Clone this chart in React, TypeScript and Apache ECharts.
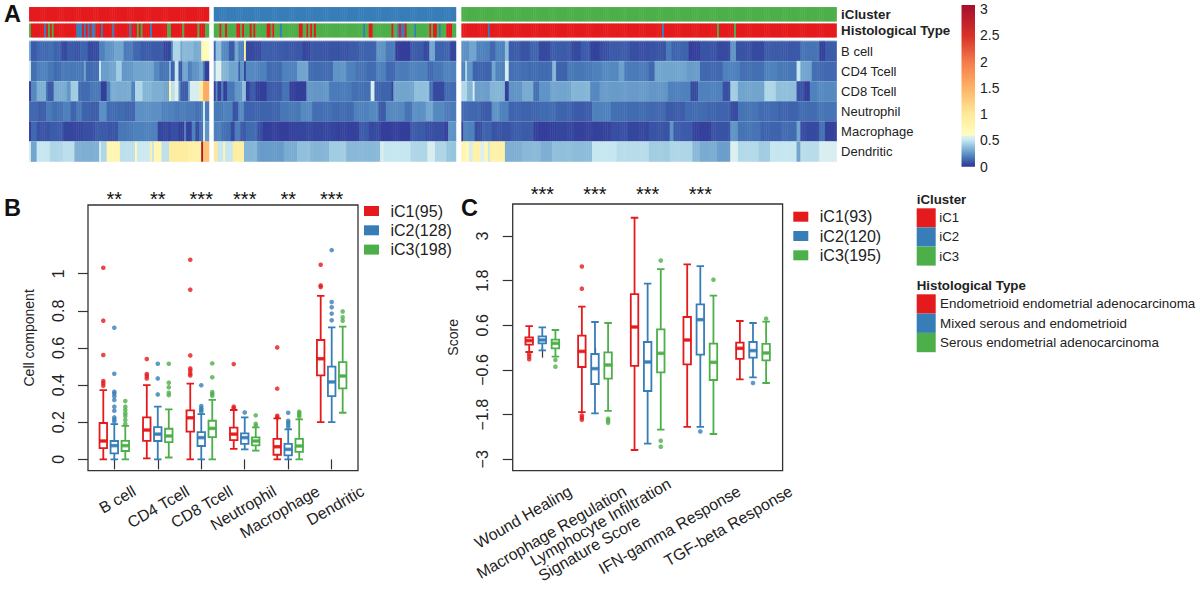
import React, { useEffect, useRef } from "react";
import * as echarts from "echarts";

const RED = "#e41a1c";
const BLUE = "#377eb8";
const GREEN = "#4daf4a";
const INK = "#222222";
const FONT = '"Liberation Sans", Arial, sans-serif';

const rowNames = ["B cell", "CD4 Tcell", "CD8 Tcell", "Neutrophil", "Macrophage", "Dendritic"];
const clusterSizes = [95, 128, 198];

// runs are [number of samples, value]
const histC1 = [[1,2],[7,0],[1,1],[1,0],[1,2],[1,0],[1,2],[12,0],[3,1],[1,0],[1,1],[1,0],[1,1],[1,0],[2,1],[3,0],[1,1],[5,0],[1,1],[8,0],[1,1],[3,0],[1,2],[1,0],[1,2],[4,0],[1,1],[8,0],[2,2],[6,0],[1,2],[7,0],[1,2],[3,0],[2,2]];
const histC2 = [[3,2],[1,0],[2,2],[1,0],[5,2],[2,0],[1,2],[1,0],[3,2],[1,0],[1,2],[1,0],[6,2],[2,0],[1,2],[1,0],[3,2],[1,1],[9,2],[2,0],[2,2],[1,0],[1,2],[1,0],[1,2],[1,0],[25,2],[1,1],[2,2],[2,0],[10,2],[1,0],[2,2],[1,1],[1,0],[2,1],[1,0],[4,2],[1,1],[7,2],[1,0],[1,2],[2,0],[1,2],[1,1],[3,2],[3,0],[2,2]];
const histC3 = [[14,0],[1,1],[91,0],[1,1],[28,0],[1,2],[8,0],[1,2],[53,0]];

const heatC1 = [
  [[1,.3],[3,.1],[6,.13],[3,.15],[4,.12],[3,.06],[4,.1],[3,.08],[4,.12],[6,.06],[3,.2],[5,.25],[5,.3],[5,.18],[4,.13],[12,.1],[4,.05],[1,.2],[4,.45],[1,.3],[6,.36],[4,.32],[1,.75],[3,.65]],
  [[1,.55],[3,.15],[6,.2],[3,.17],[4,.14],[5,.18],[7,.17],[1,.3],[7,.14],[1,.52],[4,.28],[4,.3],[3,.42],[6,.26],[6,.3],[5,.3],[3,.22],[5,.16],[1,.35],[2,.12],[2,.5],[2,.1],[3,.3],[2,.2],[4,.25],[2,.3],[1,.15],[2,.03]],
  [[1,.02],[3,.22],[5,.33],[1,.15],[3,.1],[7,.32],[2,.26],[4,.42],[6,.14],[6,.17],[3,.03],[2,.2],[11,.32],[2,.2],[4,.45],[5,.35],[6,.33],[3,.3],[1,.8],[2,.48],[2,.57],[1,.25],[4,.1],[1,.3],[5,.55],[2,.9],[3,1.55]],
  [[5,.13],[4,.1],[3,.18],[6,.15],[4,.2],[3,.12],[3,.17],[5,.12],[4,.1],[4,.24],[10,.14],[5,.12],[14,.24],[7,.2],[11,.18],[3,.15],[1,.2],[1,.55],[2,.18]],
  [[1,.02],[3,.13],[7,.08],[7,.1],[10,.05],[7,.07],[7,.1],[5,.08],[8,.17],[13,.2],[7,.05],[4,.07],[3,.03],[1,.2],[3,.04],[2,.2],[2,.06],[2,.15],[1,.57],[2,.25]],
  [[1,.55],[3,.3],[7,.5],[7,.45],[6,.48],[13,.33],[1,.55],[3,.45],[7,.75],[8,.48],[1,.7],[7,.52],[1,.85],[1,.5],[4,.75],[4,.48],[10,.95],[7,.85],[1,2.95],[3,1.35]],
];
const heatC2 = [
  [[1,.12],[3,.38],[4,.22],[3,.1],[2,.3],[3,.2],[1,.85],[8,.06],[5,.11],[7,.1],[10,.09],[4,.05],[7,.09],[13,.08],[6,.1],[9,.12],[5,.25],[5,.18],[8,.03],[7,.1],[3,.06],[3,.3],[8,.12],[3,.05]],
  [[1,.35],[3,.58],[4,.35],[5,.3],[1,.1],[2,.25],[1,.05],[6,.22],[5,.2],[8,.14],[8,.2],[6,.3],[13,.14],[7,.25],[5,.2],[6,.16],[5,.14],[5,.2],[5,.13],[7,.18],[10,.2],[3,.13],[5,.17],[7,.2]],
  [[1,.04],[1,.22],[2,.03],[1,.2],[2,.02],[4,.17],[4,.25],[2,.38],[2,.04],[3,.1],[6,.03],[8,.1],[4,.16],[9,.03],[12,.26],[12,.18],[10,.15],[2,.56],[9,.12],[1,.05],[6,.3],[5,.3],[8,.38],[2,.15],[6,.06],[6,.14]],
  [[5,.17],[5,.2],[3,.08],[3,.22],[6,.12],[13,.12],[11,.17],[6,.22],[11,.15],[11,.14],[8,.2],[5,.22],[4,.1],[10,.22],[4,.16],[7,.24],[4,.3],[6,.22],[6,.18]],
  [[4,.2],[5,.15],[2,.06],[3,.18],[3,.1],[6,.14],[3,.07],[17,.03],[8,.05],[14,.05],[12,.04],[5,.1],[6,.06],[16,.03],[8,.1],[10,.07],[2,.03],[4,.25]],
  [[2,1],[3,.5],[1,.8],[4,.5],[6,.9],[7,.35],[14,.27],[7,.32],[7,.38],[10,.35],[9,.42],[18,.36],[2,.55],[14,.5],[9,.45],[4,.55],[6,.45],[5,.4]],
];
// the third cluster is read in two halves of 99 samples each
const heatC3 = [
  [[4,.24],[4,.3],[7,.2],[3,.13],[5,.2],[2,.38],[6,.1],[5,.08],[5,.12],[6,.06],[11,.1],[5,.06],[5,.1],[5,.04],[5,.07],[11,.1],[10,.07],
   [9,.08],[3,.18],[9,.12],[6,.03],[9,.08],[7,.06],[3,.25],[8,.08],[7,.06],[9,.1],[10,.09],[10,.16],[3,.03],[6,.1]],
  [[2,.2],[1,.45],[3,.25],[10,.12],[2,.3],[5,.2],[2,.55],[10,.15],[7,.14],[6,.14],[2,.35],[6,.12],[13,.17],[5,.2],[9,.22],[3,.28],[13,.18],
   [3,.13],[4,.3],[13,.3],[7,.27],[12,.13],[4,.2],[5,.2],[13,.15],[7,.2],[10,.17],[2,.5],[6,.3],[4,.15],[9,.13]],
  [[3,.45],[3,.35],[1,.55],[8,.28],[8,.35],[2,.03],[7,.25],[6,.32],[3,.15],[6,.25],[11,.3],[10,.35],[5,.22],[26,.27],
   [10,.26],[12,.2],[4,.06],[13,.2],[4,.07],[4,.42],[14,.3],[6,.45],[11,.38],[4,.08],[3,.03],[4,.2],[10,.22]],
  [[10,.13],[6,.1],[4,.25],[5,.2],[16,.12],[9,.14],[8,.12],[11,.1],[10,.2],[5,.15],[15,.14],
   [9,.13],[10,.1],[12,.14],[12,.12],[4,.06],[11,.16],[10,.14],[11,.12],[10,.14],[10,.16]],
  [[1,.03],[6,.2],[4,.07],[5,.12],[10,.08],[12,.1],[12,.03],[9,.05],[10,.04],[10,.04],[9,.07],[11,.05],
   [11,.08],[2,.25],[10,.1],[10,.04],[10,.08],[4,.25],[12,.16],[11,.12],[8,.14],[2,.3],[10,.06],[3,.15],[6,.04]],
  [[2,.8],[2,.7],[2,.55],[4,.85],[2,.57],[2,.75],[1,.5],[8,.85],[9,.33],[10,.36],[6,.33],[10,.38],[11,.37],[13,.5],[17,.47],
   [11,.42],[12,.45],[4,.36],[9,.32],[7,.28],[4,.57],[11,.46],[6,.42],[14,.5],[2,.3],[10,.47],[9,.56]],
];

// box statistics are [min, Q1, median, Q3, max]
const cellGroups = ["B cell", "CD4 Tcell", "CD8 Tcell", "Neutrophil", "Macrophage", "Dendritic"];
const cellStars = ["**", "**", "***", "***", "**", "***"];
const cellTicks = [0, 0.2, 0.4, 0.6, 0.8, 1];
const cellBoxes = [
  [[0,.061,.099,.196,.373],[0,.032,.074,.099,.19],[0,.045,.074,.1,.18]],
  [[.005,.1,.158,.226,.4],[0,.099,.136,.174,.284],[.01,.093,.126,.165,.269]],
  [[0,.149,.224,.264,.408],[0,.072,.117,.147,.244],[0,.12,.167,.208,.32]],
  [[.057,.104,.136,.171,.266],[.054,.083,.117,.14,.226],[.047,.075,.099,.118,.172]],
  [[0,.025,.068,.11,.221],[0,.022,.054,.083,.162],[0,.04,.072,.11,.215]],
  [[.201,.452,.542,.643,.881],[.201,.341,.417,.499,.711],[.251,.382,.449,.524,.715]],
];
const cellOutliers = [
  [[1.032,.747,.562,.422,.41,.397],[.709,.461,.364,.355,.34,.32,.284,.262,.226,.215,.203],[.314,.284,.266,.248,.233,.212,.19]],
  [[.54,.46,.449,.436],[.515,.436,.35],[.515,.413,.388,.359,.346]],
  [[1.075,.914,.56,.49,.478,.463,.452],[.399,.287,.276,.266,.257],[.517,.442,.363,.352,.343]],
  [[.513,.284,.275],[.253],[.237,.192,.18]],
  [[.603,.381,.235,.226],[.251,.208,.197,.185,.172],[.257,.248,.239,.23]],
  [[1.048,.937,.928],[1.127,.847,.819,.785,.749],[.797,.765,.747]],
];

const scoreGroups = ["Wound Healing", "Macrophage Regulation", "{n|Lymphocyte Infiltration}\n{s|Signature Score}", "IFN-gamma Response", "TGF-beta Response"];
const scoreStars = ["***", "***", "***", "***", ""];
const scoreTicks = [-3, -1.8, -0.6, 0.6, 1.8, 3];
const scoreBoxes = [
  [[-.116,.08,.188,.278,.58],[-.072,.116,.206,.304,.546],[-.24,-.018,.116,.215,.475]],
  [[-1.73,-.52,-.1,.322,1.1],[-1.764,-.976,-.564,-.17,.69],[-1.7,-.833,-.466,-.125,.663]],
  [[-2.75,-.49,.555,1.44,3.49],[-2.58,-1.164,-.385,.152,1.72],[-2.2,-.663,-.152,.49,2.11]],
  [[-2.13,-.448,.206,.824,2.24],[-2.13,-.188,.752,1.164,2.19],[-2.32,-.869,-.394,.107,1.397]],
  [[-.85,-.304,-.018,.134,.716],[-.797,-.27,-.08,.152,.663],[-.95,-.34,-.143,.1,.7]],
];
const scoreOutliers = [
  [[-.17,-.24,-.31],[],[-.33,-.51]],
  [[2.18,1.585,-1.82,-1.88,-1.94],[],[-1.907,-1.96,-2.02]],
  [[],[],[2.34,-2.5,-2.66]],
  [[],[-2.25],[1.827]],
  [[],[-.95],[.78]],
];

const cellLegend = ["iC1(95)", "iC2(128)", "iC3(198)"];
const scoreLegend = ["iC1(93)", "iC2(120)", "iC3(195)"];
const clusterLegend = ["iC1", "iC2", "iC3"];
const histLegend = ["Endometrioid endometrial adenocarcinoma", "Mixed serous and endometrioid", "Serous endometrial adenocarcinoma"];
const barTicks = [0, 0.5, 1, 1.5, 2, 2.5, 3];
const palette = [RED, BLUE, GREEN];

const HEAT_MAX = 3.08;
const heatAnchors: [number, string][] = [
  [0, "#313695"], [0.05, "#35459e"], [0.1, "#3c5caa"], [0.15, "#4470b3"], [0.2, "#4f82bd"], [0.3, "#72a5ce"], [0.4, "#98c5de"], [0.5, "#c6e6f0"], [0.585, "#e2f2ee"],
  [0.6, "#fffdc0"], [1, "#fee99a"], [1.5, "#fdb366"], [2, "#f47a4a"], [2.5, "#d73027"], [HEAT_MAX, "#a50f2d"],
];
function heatColour(v: number) {
  for (let i = 1; i < heatAnchors.length; i++) {
    if (v <= heatAnchors[i][0]) {
      const [a, ca] = heatAnchors[i - 1];
      const [b, cb] = heatAnchors[i];
      return echarts.color.lerp((v - a) / (b - a), [ca, cb]) as string;
    }
  }
  return heatAnchors[heatAnchors.length - 1][1];
}
const SCALE_STEPS = 154;
const heatScale: string[] = [];
for (let i = 0; i <= SCALE_STEPS; i++) heatScale.push(heatColour((i / SCALE_STEPS) * HEAT_MAX));

function expand(runs: number[][]) {
  const out: number[] = [];
  runs.forEach(([n, v]) => { for (let i = 0; i < n; i++) out.push(v); });
  return out;
}
const hideAxis = { show: false };

function buildOption() {
  const grid: any[] = [], xAxis: any[] = [], yAxis: any[] = [], series: any[] = [];
  const addGrid = (g: any) => { grid.push(g); return grid.length - 1; };
  const addX = (a: any) => { xAxis.push(a); return xAxis.length - 1; };
  const addY = (a: any) => { yAxis.push(a); return yAxis.length - 1; };

  // ---- panel A
  const spans = [[29.3, 209], [214, 456], [461.6, 836.6]];
  const hists = [histC1, histC2, histC3];
  const heats = [heatC1, heatC2, heatC3];
  const catSeries: number[] = [];
  const heatSeries: number[] = [];
  const band = (c: number, top: number, bottom: number, names: string[], labelStyle: any, separators: boolean) => {
    const gi = addGrid({ left: spans[c][0], width: spans[c][1] - spans[c][0], top, height: bottom - top });
    const xi = addX({ type: "category", gridIndex: gi, data: Array.from({ length: clusterSizes[c] }, (_, i) => i), ...hideAxis });
    const yi = addY({
      type: "category", gridIndex: gi, data: names, inverse: true, position: "right", z: 5,
      axisLine: { show: false }, axisTick: { show: false },
      splitLine: { show: separators, lineStyle: { color: "rgba(255,255,255,0.18)", width: 1 } },
      axisLabel: { show: c === 2, fontFamily: FONT, color: INK, margin: 4.5, fontSize: 13, ...labelStyle },
    });
    return [xi, yi];
  };
  clusterSizes.forEach((size, c) => {
    let [xi, yi] = band(c, 7.3, 21.3, ["iCluster"], { fontWeight: "bold", fontSize: 13.3 }, false);
    catSeries.push(series.length);
    series.push({ type: "heatmap", name: "iCluster " + c, xAxisIndex: xi, yAxisIndex: yi,
      data: Array.from({ length: size }, (_, i) => [i, 0, c]) });
    [xi, yi] = band(c, 23.7, 37.3, ["Histological Type"], { fontWeight: "bold", fontSize: 13.3 }, false);
    catSeries.push(series.length);
    series.push({ type: "heatmap", name: "Histological Type " + c, xAxisIndex: xi, yAxisIndex: yi,
      data: expand(hists[c]).map((v, i) => [i, 0, v]) });
    [xi, yi] = band(c, 41, 161.7, rowNames, {}, true);
    const data: number[][] = [];
    heats[c].forEach((runs, r) => expand(runs).forEach((v, i) => data.push([i, r, v])));
    heatSeries.push(series.length);
    series.push({ type: "heatmap", name: "Cells " + c, xAxisIndex: xi, yAxisIndex: yi, data });
  });

  // colour bar
  const cb = addGrid({ left: 961.5, width: 13.5, top: 5, bottom: 594 - 166.7 });
  const cbx = addX({ type: "category", gridIndex: cb, data: ["scale"], ...hideAxis });
  const cby = addY({
    type: "value", gridIndex: cb, min: 0, max: HEAT_MAX, position: "right", splitLine: { show: false },
    axisLine: { show: false }, axisTick: { show: false },
    axisLabel: { customValues: barTicks, margin: 5, fontFamily: FONT, fontSize: 14, color: INK, formatter: (v: number) => String(v) },
  });
  series.push({
    type: "bar", name: "Colour scale", xAxisIndex: cbx, yAxisIndex: cby, barWidth: "100%", data: [HEAT_MAX],
    itemStyle: { color: new echarts.graphic.LinearGradient(0, 1, 0, 0, heatScale.map((c, i) => ({ offset: i / SCALE_STEPS, color: c }))) },
  });

  // ---- box panels
  const tickStyle = { show: true, length: 10, lineStyle: { color: "#333", width: 1.2 } };
  const panel = (cfg: any) => {
    const plotWidth = cfg.right - cfg.left;
    const gi = addGrid({ left: cfg.left, width: plotWidth, top: cfg.top, height: cfg.bottom - cfg.top, show: true, borderColor: "#333", borderWidth: 1.3, backgroundColor: "transparent" });
    const base = { type: "value", gridIndex: gi, min: cfg.xMin, max: cfg.xMax, splitLine: { show: false } };
    const positions = cfg.groups.map((_: string, i: number) => i + 1);
    addX({ ...base, position: "bottom", axisLine: { show: false }, axisTick: { ...tickStyle, customValues: positions }, axisLabel: { show: false } });
    addX({
      ...base, position: "top", axisLine: { show: false }, axisTick: { show: false },
      axisLabel: { customValues: positions, margin: cfg.starMargin, fontFamily: FONT, fontSize: 20, color: "#111", formatter: (v: number) => cfg.stars[v - 1] },
    });
    // the labels overhang the frame, so they sit on a wider axis of the same scale
    const unit = plotWidth / (cfg.xMax - cfg.xMin);
    const spare = 70;
    const lg = addGrid({ left: cfg.left, width: plotWidth + spare, top: cfg.top, height: cfg.bottom - cfg.top });
    const labelAt = cfg.groups.map((_: string, i: number) => i + 1 + cfg.labelShift[i] / unit);
    const fontStyle = { fontFamily: FONT, fontSize: 16, color: INK, lineHeight: 17 };
    addX({
      type: "value", gridIndex: lg, min: cfg.xMin, max: cfg.xMax + spare / unit, splitLine: { show: false }, position: "bottom",
      axisLine: { show: false }, axisTick: { show: false },
      axisLabel: {
        customValues: labelAt, rotate: 30, margin: cfg.xMargin, ...fontStyle,
        rich: { n: { ...fontStyle }, s: { ...fontStyle, padding: [0, 45, 0, 0] } },
        formatter: (v: number) => cfg.groups[labelAt.findIndex((p: number) => Math.abs(p - v) < 1e-6)],
      },
    });
    addY({ type: "value", gridIndex: lg, min: 0, max: 1, ...hideAxis });

    const yi = addY({
      type: "value", gridIndex: gi, min: cfg.yMin, max: cfg.yMax, splitLine: { show: false }, axisLine: { show: false },
      axisTick: { ...tickStyle, customValues: cfg.ticks },
      name: cfg.yName, nameLocation: "middle", nameGap: cfg.nameGap, nameRotate: 90,
      nameTextStyle: { fontFamily: FONT, fontSize: 14, color: INK },
      axisLabel: { customValues: cfg.ticks, rotate: 90, margin: cfg.yMargin, fontFamily: FONT, fontSize: 16, color: INK,
        formatter: (v: number) => String(v).replace("-", "\u2212") },
    });
    palette.forEach((colour, s) => {
      const xi = addX({ ...base, ...hideAxis });
      const off = (s - 1) * cfg.offset;
      series.push({
        type: "boxplot", name: cfg.legend[s], xAxisIndex: xi, yAxisIndex: yi, boxWidth: [7.5, 7.5],
        itemStyle: { color: "#ffffff", borderColor: colour, borderWidth: 1.8 },
        data: cfg.boxes.map((g: number[][], i: number) => [i + 1 + off, ...g[s]]),
      });
      series.push({
        type: "scatter", name: cfg.legend[s] + " median", xAxisIndex: xi, yAxisIndex: yi, symbol: "rect", symbolSize: [8.5, 3.6], z: 4,
        itemStyle: { color: colour }, data: cfg.boxes.map((g: number[][], i: number) => [i + 1 + off, g[s][2]]),
      });
      const pts: number[][] = [];
      cfg.outliers.forEach((g: number[][], i: number) => g[s].forEach((v) => pts.push([i + 1 + off, v])));
      series.push({
        type: "scatter", name: cfg.legend[s] + " outliers", xAxisIndex: xi, yAxisIndex: yi, symbol: "circle", symbolSize: 4.6, z: 4,
        itemStyle: { color: colour }, data: pts,
      });
    });
  };
  panel({
    left: 88, right: 358, top: 205, bottom: 470.7, xMin: 0.395, xMax: 6.605, yMin: -0.061, yMax: 1.37, offset: 0.253,
    groups: cellGroups, stars: cellStars, ticks: cellTicks, boxes: cellBoxes, outliers: cellOutliers, legend: cellLegend,
    labelShift: [20, 30, 30, 30, 30, 31],
    yName: "Cell component", nameGap: 52, yMargin: 22, xMargin: 19, starMargin: -4,
  });
  panel({
    left: 512.7, right: 782.6, top: 204, bottom: 470.7, xMin: 0.438, xMax: 5.562, yMin: -3.306, yMax: 3.86, offset: 0.249,
    groups: scoreGroups, stars: scoreStars, ticks: scoreTicks, boxes: scoreBoxes, outliers: scoreOutliers, legend: scoreLegend,
    labelShift: [28, 30, 26, 39, 38],
    yName: "Score", nameGap: 53, yMargin: 22, xMargin: 19, starMargin: 0,
  });

  // ---- legends and letters
  const legendOf = (names: string[], left: number, top: number) => ({
    orient: "vertical", left, top, padding: 0, itemWidth: 15, itemHeight: 10, itemGap: 3.3, selectedMode: false,
    textStyle: { fontFamily: FONT, fontSize: 16, color: INK, padding: [0, 0, 0, 6.5] },
    data: names.map((name, i) => ({ name, icon: "rect", itemStyle: { color: palette[i], borderWidth: 0 } })),
  });

  const swatchBlock = (title: string, names: string[], x: number, titleY: number, top: number, step: number, textFont: number, textX: number) => [
    { type: "text", x, y: titleY, style: { text: title, font: `bold 13.3px ${FONT}`, fill: INK, textVerticalAlign: "middle" } },
    ...names.flatMap((name, i) => [
      { type: "rect", x, y: top + i * step, shape: { width: 19, height: step }, style: { fill: palette[i] } },
      { type: "text", x: textX, y: top + i * step + step / 2, style: { text: name, font: `${textFont}px ${FONT}`, fill: INK, textVerticalAlign: "middle" } },
    ]),
  ];
  const letter = (text: string, x: number, y: number) => ({ type: "text", x, y, style: { text, font: `bold 23.5px ${FONT}`, fill: "#111", textVerticalAlign: "top" } });

  return {
    animation: false,
    backgroundColor: "#ffffff",
    grid, xAxis, yAxis, series,
    legend: [legendOf(cellLegend, 364, 203), legendOf(scoreLegend, 793.3, 208.7)],
    visualMap: [
      { type: "continuous", show: false, min: 0, max: HEAT_MAX, seriesIndex: heatSeries, inRange: { color: heatScale } },
      { type: "piecewise", show: false, seriesIndex: catSeries, pieces: palette.map((color, value) => ({ value, color })) },
    ],
    graphic: [
      letter("A", 4, 2), letter("B", 4, 196), letter("C", 461, 196),
      ...swatchBlock("iCluster", clusterLegend, 916.7, 199, 208.3, 19.1, 13.2, 939.3),
      ...swatchBlock("Histological Type", histLegend, 916.7, 285.3, 294.3, 19.3, 13.4, 940),
    ],
  };
}

export default function App() {
  const ref = useRef<HTMLDivElement>(null);
  useEffect(() => {
    document.body.style.margin = "0";
    const chart = echarts.init(ref.current!, null, { renderer: "svg" });
    chart.setOption(buildOption() as any);
    return () => chart.dispose();
  }, []);
  return <div ref={ref} style={{ width: 1200, height: 594 }} />;
}
